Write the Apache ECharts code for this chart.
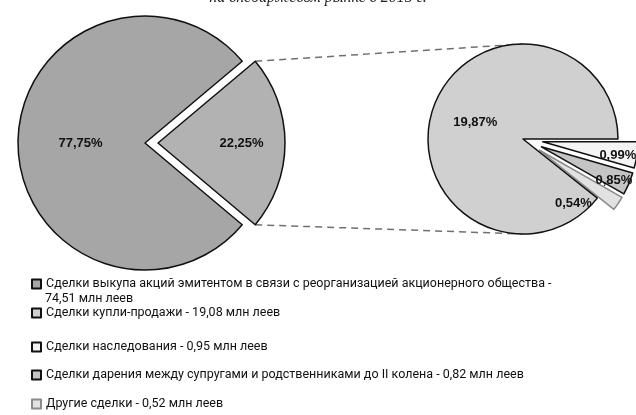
<!DOCTYPE html>
<html>
<head>
<meta charset="utf-8">
<script src="https://cdn.jsdelivr.net/npm/echarts@6/dist/echarts.min.js"></script>
<style>
  html, body { margin: 0; padding: 0; background: #fff; }
  #chart { width: 636px; height: 415px; }
</style>
</head>
<body>
<div id="chart"></div>
<script>
// виды сделок (порядок как в легенде)
var dealTypes = [
  "Сделки выкупа акций эмитентом в связи с реорганизацией акционерного общества",
  "Сделки купли-продажи",
  "Сделки наследования",
  "Сделки дарения между супругами и родственниками до II колена",
  "Другие сделки"
];
// объем, млн леев
var amounts = [74.51, 19.08, 0.95, 0.82, 0.52];
// доля, % (подписи на диаграмме)
var shares = [77.75, 19.87, 0.99, 0.85, 0.54];
var otherShare = 22.25;
var otherName = "Прочие";

var colors = ["#a6a6a6", "#d0d0d0", "#f4f4f4", "#c4c4c4", "#e2e2e2"];
var borders = ["#111", "#111", "#111", "#111", "#8a8a8a"];

// геометрия
var c1 = [145, 143], r1 = 127, off1 = 13;
var c2 = [523, 139], r2 = 95, off2 = 20;
var half1 = otherShare / 100 * 360 / 2; // половина угла выносимого сектора

function pct(v) { return v.toFixed(2).replace(".", ",") + "%"; }
function money(v) { return v.toFixed(2).replace(".", ","); }

var chart = echarts.init(document.getElementById("chart"));

var labelFont = {
  color: "#111",
  fontFamily: "Liberation Sans, Arial, sans-serif",
  fontWeight: "bold",
  fontSize: 13
};
var legendFont = {
  fontFamily: "Roboto, sans-serif",
  fontSize: 12.5,
  lineHeight: 14,
  color: "#111"
};

// сдвиги подписей второй диаграммы
var shift2 = [[25, 7], [26, 14], [-8, 25], [0, 0]];

// точки соединительных линий
var a = half1 * Math.PI / 180;
var cornerTop = [c1[0] + off1 + r1 * Math.cos(a), c1[1] - r1 * Math.sin(a)];
var cornerBot = [c1[0] + off1 + r1 * Math.cos(a), c1[1] + r1 * Math.sin(a)];

var legendLeft = 31;
var legendTops = [277, 306, 340, 368, 397];
var legends = dealTypes.map(function (name, i) {
  return {
    data: [name],
    orient: "vertical",
    left: legendLeft,
    top: legendTops[i],
    padding: 0,
    itemWidth: 9,
    itemHeight: 9,
    icon: "rect",
    selectedMode: false,
    textStyle: legendFont,
    formatter: function (n) {
      // первая запись переносится на вторую строку (см. graphic)
      if (i === 0) return n + " -";
      return n + " - " + money(amounts[i]) + " млн леев";
    }
  };
});

chart.setOption({
  animation: false,
  title: {
    text: "на внебиржевом рынке в 2015 г.",
    left: "center",
    top: -15,
    textStyle: {
      fontFamily: "Liberation Serif, serif",
      fontStyle: "italic",
      fontWeight: "normal",
      fontSize: 16,
      color: "#222"
    }
  },
  legend: legends,
  graphic: [
    {
      type: "line",
      z: 0,
      shape: { x1: cornerTop[0], y1: cornerTop[1], x2: c2[0], y2: c2[1] - r2 },
      style: { stroke: "#707070", lineWidth: 1.5, lineDash: [7, 5] }
    },
    {
      type: "line",
      z: 0,
      shape: { x1: cornerBot[0], y1: cornerBot[1], x2: c2[0], y2: c2[1] + r2 },
      style: { stroke: "#707070", lineWidth: 1.5, lineDash: [7, 5] }
    },
    {
      type: "text",
      left: legendLeft + 14,
      top: legendTops[0] + 15,
      style: {
        text: money(amounts[0]) + " млн леев",
        font: "12.5px Roboto, sans-serif",
        fill: "#111"
      }
    }
  ],
  series: [
    {
      type: "pie",
      center: c1,
      radius: r1,
      startAngle: half1,
      clockwise: true,
      selectedMode: "multiple",
      selectedOffset: off1,
      avoidLabelOverlap: false,
      emphasis: { disabled: true },
      label: Object.assign({ position: "inside", formatter: function (p) { return pct(p.value); } }, labelFont),
      labelLine: { show: false },
      labelLayout: function (p) { return p.dataIndex === 0 ? { dx: 17 } : { dx: 2 }; },
      itemStyle: { borderColor: "#111", borderWidth: 1.5 },
      data: [
        { name: otherName, value: otherShare, selected: true, itemStyle: { color: "#b2b2b2" } },
        { name: dealTypes[0], value: shares[0], itemStyle: { color: colors[0], borderColor: borders[0] } }
      ]
    },
    {
      type: "pie",
      center: c2,
      radius: r2,
      startAngle: 0,
      clockwise: true,
      selectedMode: "multiple",
      selectedOffset: off2,
      avoidLabelOverlap: false,
      emphasis: { disabled: true },
      label: Object.assign({ position: "inside", formatter: function (p) { return pct(p.value); } }, labelFont),
      labelLine: { show: false },
      labelLayout: function (p) { return { dx: shift2[p.dataIndex][0], dy: shift2[p.dataIndex][1] }; },
      itemStyle: { borderWidth: 1.5 },
      data: [
        { name: dealTypes[2], value: shares[2], selected: true, itemStyle: { color: colors[2], borderColor: borders[2] } },
        { name: dealTypes[3], value: shares[3], selected: true, itemStyle: { color: colors[3], borderColor: borders[3] } },
        { name: dealTypes[4], value: shares[4], selected: true, itemStyle: { color: colors[4], borderColor: borders[4] } },
        { name: dealTypes[1], value: shares[1], itemStyle: { color: colors[1], borderColor: borders[1] } }
      ]
    }
  ]
});
</script>
</body>
</html>
